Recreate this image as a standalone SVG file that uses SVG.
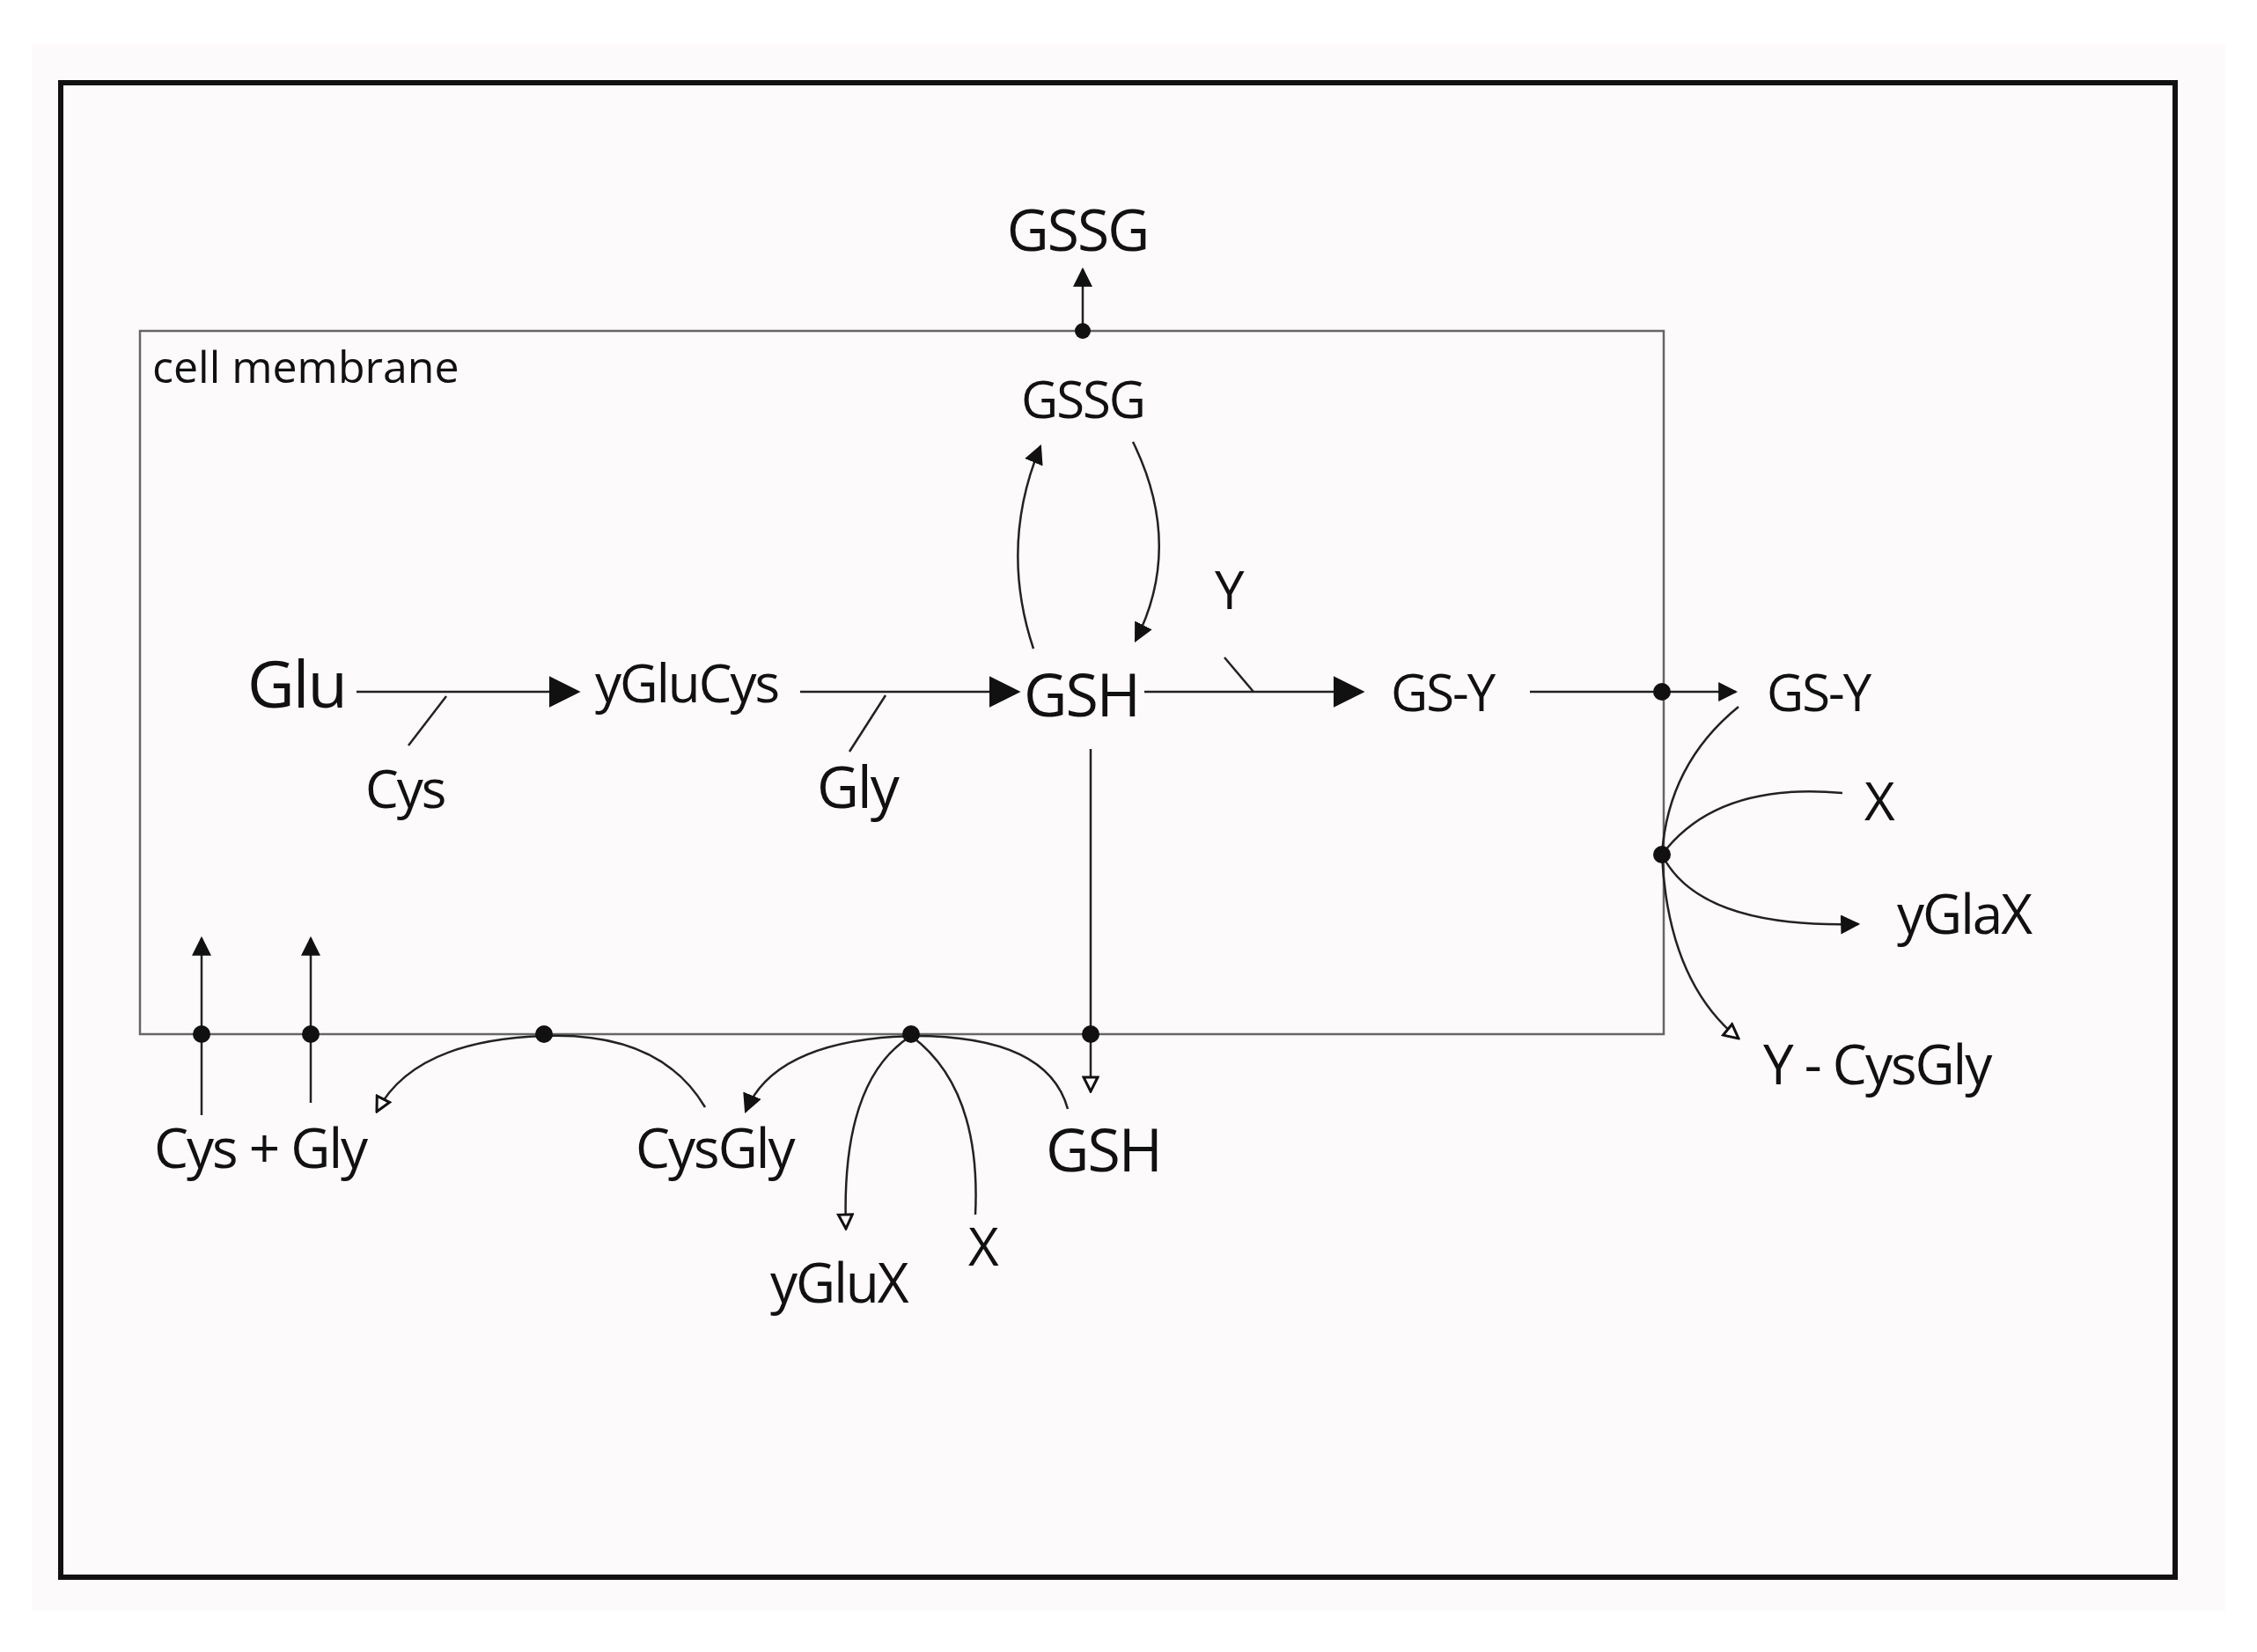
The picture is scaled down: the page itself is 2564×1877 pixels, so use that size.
<svg xmlns="http://www.w3.org/2000/svg" width="2564" height="1877" viewBox="0 0 2564 1877">
<style>
text{font-family:"Open Sans","Noto Sans",sans-serif;fill:#111;letter-spacing:-2px}
.l{stroke:#222;stroke-width:2.5;fill:none}
.dot{fill:#111}
</style>
<defs>
<marker id="big" viewBox="0 0 10 10" refX="9" refY="5" markerWidth="36" markerHeight="36" markerUnits="userSpaceOnUse" orient="auto"><path d="M0,0L10,5L0,10Z" fill="#111"/></marker>
<marker id="sm" viewBox="0 0 10 10" refX="9" refY="5" markerWidth="22" markerHeight="22" markerUnits="userSpaceOnUse" orient="auto"><path d="M0,0L10,5L0,10Z" fill="#111"/></marker>
<marker id="op" viewBox="0 0 10 10" refX="9" refY="5" markerWidth="20" markerHeight="20" markerUnits="userSpaceOnUse" orient="auto"><path d="M1,1L9,5L1,9Z" fill="#fff" stroke="#111" stroke-width="1.5"/></marker>
</defs>
<rect width="2564" height="1877" fill="#fff"/>
<rect x="36" y="50" width="2492" height="1780" fill="#fcfafa"/>
<rect x="69" y="94" width="2402" height="1698" fill="none" stroke="#111" stroke-width="6"/>
<rect x="159" y="376" width="1731" height="799" fill="none" stroke="#666" stroke-width="2.5"/>
<g id="connectors">
<path class="l" d="M1230,376V306" marker-end="url(#sm)"/>
<path class="l" d="M1174,737Q1135,620 1182,507" marker-end="url(#sm)"/>
<path class="l" d="M1287,502Q1345,620 1290,728" marker-end="url(#sm)"/>
<path class="l" d="M405,786H656" marker-end="url(#big)"/>
<path class="l" d="M507,791L464,847"/>
<path class="l" d="M909,786H1156" marker-end="url(#big)"/>
<path class="l" d="M1006,790L965,854"/>
<path class="l" d="M1300,786H1547" marker-end="url(#big)"/>
<path class="l" d="M1391,747L1424,786"/>
<path class="l" d="M1738,786H1972" marker-end="url(#sm)"/>
<path class="l" d="M1975,803Q1895,868 1888,971"/>
<path class="l" d="M2093,901Q1950,888 1888,971"/>
<path class="l" d="M1888,971Q1930,1055 2111,1050" marker-end="url(#sm)"/>
<path class="l" d="M1888,971Q1895,1115 1975,1180" marker-end="url(#op)"/>
<path class="l" d="M229,1267V1066" marker-end="url(#sm)"/>
<path class="l" d="M353,1253V1066" marker-end="url(#sm)"/>
<path class="l" d="M801,1258Q750,1172 618,1177Q470,1182 428,1263" marker-end="url(#op)"/>
<path class="l" d="M1213,1260Q1190,1176 1035,1177Q880,1182 847,1263" marker-end="url(#sm)"/>
<path class="l" d="M1035,1177Q955,1227 961,1396" marker-end="url(#op)"/>
<path class="l" d="M1108,1380Q1115,1236 1035,1177"/>
<path class="l" d="M1239,851V1240" marker-end="url(#op)"/>
<circle class="dot" cx="1230" cy="376" r="9"/>
<circle class="dot" cx="1888" cy="786" r="10"/>
<circle class="dot" cx="1888" cy="971" r="10"/>
<circle class="dot" cx="229" cy="1175" r="10"/>
<circle class="dot" cx="353" cy="1175" r="10"/>
<circle class="dot" cx="618" cy="1175" r="10"/>
<circle class="dot" cx="1035" cy="1175" r="10"/>
<circle class="dot" cx="1239" cy="1175" r="10"/>
</g>
<g id="membrane-label"><text x="173" y="435" font-size="50" style="letter-spacing:0">cell membrane</text></g>
<g id="gssg-out"><text x="1224" y="285" font-size="66" text-anchor="middle">GSSG</text></g>
<g id="gssg-in"><text x="1230" y="475" font-size="58" text-anchor="middle">GSSG</text></g>
<g id="glu"><text x="281" y="804" font-size="74">Glu</text></g>
<g id="cys"><text x="415" y="918" font-size="60">Cys</text></g>
<g id="yglucys"><text x="676" y="798" font-size="60">yGluCys</text></g>
<g id="gly"><text x="928" y="918" font-size="66">Gly</text></g>
<g id="gsh"><text x="1163" y="814" font-size="68">GSH</text></g>
<g id="y"><text x="1380" y="692" font-size="60">Y</text></g>
<g id="gsy-in"><text x="1580" y="808" font-size="58">GS-Y</text></g>
<g id="gsy-out"><text x="2007" y="808" font-size="58">GS-Y</text></g>
<g id="x-right"><text x="2118" y="932" font-size="60">X</text></g>
<g id="yglax"><text x="2155" y="1061" font-size="62">yGlaX</text></g>
<g id="y-cysgly"><text x="2003" y="1232" font-size="62">Y - CysGly</text></g>
<g id="cys-gly"><text x="175" y="1327" font-size="62">Cys + Gly</text></g>
<g id="cysgly"><text x="722" y="1327" font-size="62">CysGly</text></g>
<g id="gsh-out"><text x="1188" y="1331" font-size="68">GSH</text></g>
<g id="ygluX"><text x="875" y="1480" font-size="62">yGluX</text></g>
<g id="x-bottom"><text x="1100" y="1438" font-size="60">X</text></g>
</svg>
